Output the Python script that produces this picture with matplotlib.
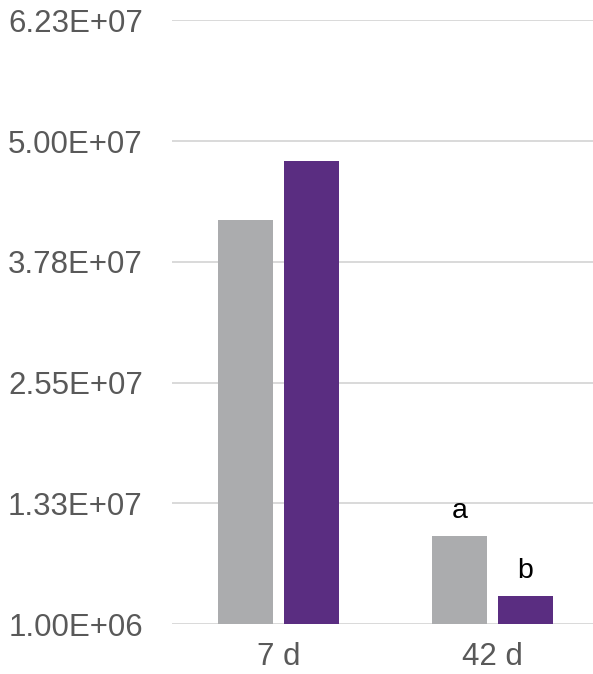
import matplotlib
matplotlib.use("Agg")
import matplotlib.pyplot as plt
import numpy as np

plt.rcParams['font.family'] = ['Liberation Sans', 'DejaVu Sans']

categories = ["7 d", "42 d"]
series_gray = [4.20e7, 9.96e6]
series_purple = [4.80e7, 3.87e6]
letters_gray = ["", "a"]
letters_purple = ["", "b"]
tick_values = [1.00e6, 1.33e7, 2.55e7, 3.78e7, 5.00e7, 6.23e7]
tick_labels = ["1.00E+06", "1.33E+07", "2.55E+07", "3.78E+07", "5.00E+07", "6.23E+07"]

gray = "#ABACAE"
purple = "#5A2D81"
text_col = "#595959"

fig = plt.figure(figsize=(5.93, 6.74), dpi=100)
ax = fig.add_axes([172 / 593, (674 - 624.3) / 674, 1 - 172 / 593, (624.3 - 20) / 674])

ymin, ymax = tick_values[0], tick_values[-1]
x = np.arange(len(categories))
w = 0.257
off = 0.154

hg = [v - ymin for v in series_gray]
hp = [v - ymin for v in series_purple]
bars_g = ax.bar(x - off, hg, width=w, bottom=ymin, color=gray, zorder=3)
bars_p = ax.bar(x + off, hp, width=w, bottom=ymin, color=purple, zorder=3)

for bars, labels in ((bars_g, letters_gray), (bars_p, letters_purple)):
    for b, lab in zip(bars, labels):
        if lab:
            ax.annotate(lab, (b.get_x() + b.get_width() / 2, b.get_y() + b.get_height()),
                        xytext=(0, 13.2), textcoords="offset points",
                        ha="center", va="baseline", fontsize=20.5, color="black",
                        zorder=4)

ax.set_ylim(ymin, ymax)
ax.set_xlim(-0.498, 1.47)
ax.set_yticks(tick_values)
ax.set_yticklabels(tick_labels)
ax.set_xticks(x)
ax.set_xticklabels(categories)
ax.tick_params(axis="y", length=0, pad=21, labelsize=22.5, labelcolor=text_col)
ax.tick_params(axis="x", length=0, pad=13, labelsize=22.5, labelcolor=text_col)
ax.grid(axis="y", color="#D9D9D9", linewidth=1.4, zorder=0)
ax.set_axisbelow(True)
for s in ax.spines.values():
    s.set_visible(False)

fig.savefig("out.png", dpi=100)
